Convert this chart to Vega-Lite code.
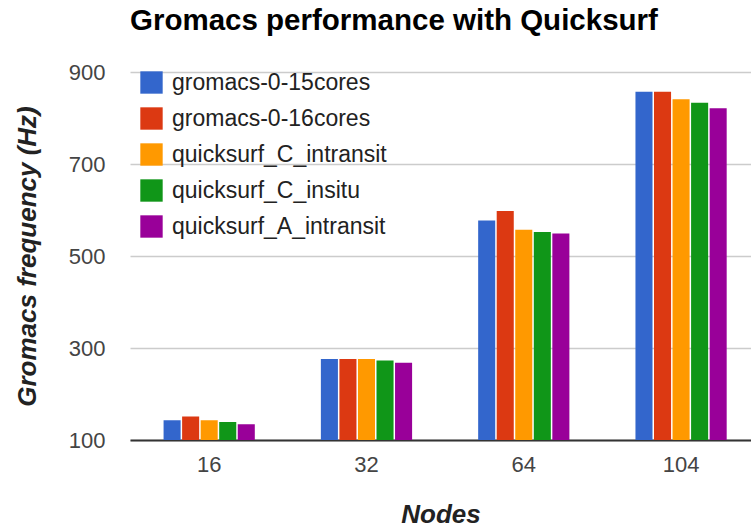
{
  "$schema": "https://vega.github.io/schema/vega-lite/v6.json",
  "autosize": {"type": "none"},
  "width": 621,
  "height": 368,
  "padding": {"left": 130, "top": 72, "right": 0, "bottom": 89},
  "background": "white",
  "title": {
    "text": "Gromacs performance with Quicksurf",
    "anchor": "start",
    "frame": "group",
    "font": "Liberation Sans",
    "fontSize": 29.5,
    "fontWeight": "bold",
    "color": "#000000",
    "offset": 25
  },
  "data": {
    "values": [
      {"nodes": "16", "series": "gromacs-0-15cores", "freq": 143},
      {"nodes": "16", "series": "gromacs-0-16cores", "freq": 151},
      {"nodes": "16", "series": "quicksurf_C_intransit", "freq": 143},
      {"nodes": "16", "series": "quicksurf_C_insitu", "freq": 139},
      {"nodes": "16", "series": "quicksurf_A_intransit", "freq": 134},
      {"nodes": "32", "series": "gromacs-0-15cores", "freq": 276},
      {"nodes": "32", "series": "gromacs-0-16cores", "freq": 276},
      {"nodes": "32", "series": "quicksurf_C_intransit", "freq": 276},
      {"nodes": "32", "series": "quicksurf_C_insitu", "freq": 273},
      {"nodes": "32", "series": "quicksurf_A_intransit", "freq": 268},
      {"nodes": "64", "series": "gromacs-0-15cores", "freq": 577},
      {"nodes": "64", "series": "gromacs-0-16cores", "freq": 598},
      {"nodes": "64", "series": "quicksurf_C_intransit", "freq": 557},
      {"nodes": "64", "series": "quicksurf_C_insitu", "freq": 552},
      {"nodes": "64", "series": "quicksurf_A_intransit", "freq": 549},
      {"nodes": "104", "series": "gromacs-0-15cores", "freq": 857},
      {"nodes": "104", "series": "gromacs-0-16cores", "freq": 857},
      {"nodes": "104", "series": "quicksurf_C_intransit", "freq": 841},
      {"nodes": "104", "series": "quicksurf_C_insitu", "freq": 833},
      {"nodes": "104", "series": "quicksurf_A_intransit", "freq": 821}
    ]
  },
  "mark": {"type": "bar", "clip": true},
  "encoding": {
    "x": {
      "field": "nodes",
      "type": "nominal",
      "sort": ["16", "32", "64", "104"],
      "scale": {"paddingInner": 0.42, "paddingOuter": 0.184, "align": 0.58},
      "axis": {
        "title": "Nodes",
        "labelAngle": 0,
        "labelFont": "Liberation Sans",
        "labelFontSize": 22,
        "labelColor": "#444444",
        "labelPadding": 14,
        "ticks": false,
        "domainColor": "#333333",
        "domainWidth": 2,
        "titleFont": "Liberation Sans",
        "titleFontSize": 26,
        "titleFontWeight": "bold",
        "titleFontStyle": "italic",
        "titleColor": "#222222",
        "titlePadding": 26
      }
    },
    "xOffset": {
      "field": "series",
      "type": "nominal",
      "sort": ["gromacs-0-15cores", "gromacs-0-16cores", "quicksurf_C_intransit", "quicksurf_C_insitu", "quicksurf_A_intransit"],
      "scale": {"paddingInner": 0.08, "paddingOuter": 0}
    },
    "y": {
      "field": "freq",
      "type": "quantitative",
      "scale": {"domain": [100, 900], "zero": false, "nice": false},
      "axis": {
        "title": "Gromacs frequency (Hz)",
        "values": [100, 300, 500, 700, 900],
        "domain": false,
        "ticks": false,
        "labelFont": "Liberation Sans",
        "labelFontSize": 22,
        "labelColor": "#444444",
        "labelPadding": 25,
        "gridColor": "#cccccc",
        "gridWidth": 1.5,
        "titleFont": "Liberation Sans",
        "titleFontSize": 26,
        "titleFontWeight": "bold",
        "titleFontStyle": "italic",
        "titleColor": "#222222",
        "titlePadding": 28
      }
    },
    "color": {
      "field": "series",
      "type": "nominal",
      "sort": ["gromacs-0-15cores", "gromacs-0-16cores", "quicksurf_C_intransit", "quicksurf_C_insitu", "quicksurf_A_intransit"],
      "scale": {
        "domain": ["gromacs-0-15cores", "gromacs-0-16cores", "quicksurf_C_intransit", "quicksurf_C_insitu", "quicksurf_A_intransit"],
        "range": ["#3366cc", "#dc3912", "#ff9900", "#109618", "#990099"]
      },
      "legend": {
        "title": null,
        "orient": "none",
        "legendX": 10,
        "legendY": -1,
        "symbolType": "square",
        "symbolSize": 500,
        "symbolStrokeWidth": 0,
        "symbolOpacity": 1,
        "labelFont": "Liberation Sans",
        "labelFontSize": 23,
        "labelColor": "#222222",
        "labelOffset": 9,
        "rowPadding": 12,
        "labelLimit": 400
      }
    }
  },
  "config": {
    "view": {"stroke": null}
  }
}
